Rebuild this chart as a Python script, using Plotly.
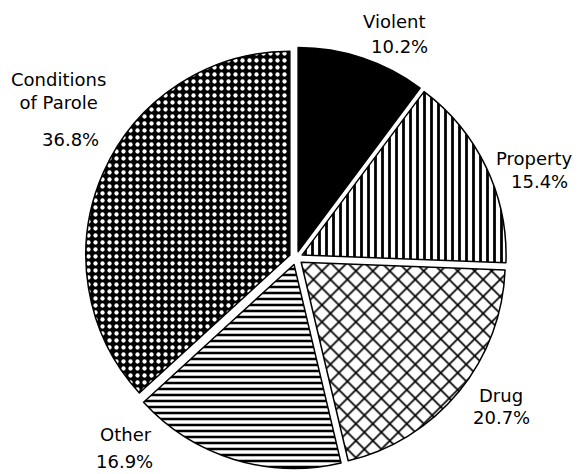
import plotly.graph_objects as go

categories = ["Violent", "Property", "Drug", "Other", "Conditions<br>of Parole"]
values = [10.2, 15.4, 20.7, 16.9, 36.8]
pct_labels = ["10.2%", "15.4%", "20.7%", "16.9%", "36.8%"]

# styling
shapes = ["", "|", "x", "-", "."]
bg = ["black", "white", "white", "white", "black"]
fg = ["black", "black", "black", "black", "white"]
sizes = [8, 7, 12, 6, 7]
solid = [0.4, 0.4, 0.26, 0.42, 0.3]

# page offset of the figure inside the browser (body margin)
OFF = 8
W, H = 580, 474

# label placement (target pixels in the 580x474 screenshot)
name_x = [427, 534, 501, 126, 58]
name_y = [22, 158, 395, 434, 91]
name_anchor = ["right", "center", "center", "center", "center"]
pct_x = [430, 539, 501, 125, 70]
pct_y = [46, 182, 417, 461, 139]
pct_anchor = ["right", "center", "center", "center", "center"]

# pie placement (target pixels): centre and drawn radius
pie_cx, pie_cy, pie_r, pull = 296, 258, 204, 0.033

font = dict(family="DejaVu Sans, Arial, sans-serif", size=18, color="black")

R = pie_r * (1 + pull)
cx, cy = pie_cx - OFF, pie_cy - OFF
dom_x = [(cx - R) / W, (cx + R) / W]
dom_y = [(H - cy - R) / H, (H - cy + R) / H]

fig = go.Figure(go.Pie(
    values=values,
    labels=categories,
    textinfo="none",
    sort=False,
    direction="clockwise",
    rotation=0,
    pull=[pull] * 5,
    hoverinfo="skip",
    marker=dict(
        colors=bg,
        line=dict(color="black", width=1.5),
        pattern=dict(shape=shapes, fgcolor=fg, bgcolor=bg, size=sizes,
                     solidity=solid, fillmode="replace"),
    ),
    domain=dict(x=dom_x, y=dom_y),
    showlegend=False,
))

annotations = []
for i, c in enumerate(categories):
    annotations.append(dict(text=c, x=(name_x[i] - OFF) / W, y=1 - (name_y[i] - OFF) / H,
                            xref="paper", yref="paper", showarrow=False,
                            xanchor=name_anchor[i], yanchor="middle",
                            align=name_anchor[i], font=font))
    annotations.append(dict(text=pct_labels[i], x=(pct_x[i] - OFF) / W, y=1 - (pct_y[i] - OFF) / H,
                            xref="paper", yref="paper", showarrow=False,
                            xanchor=pct_anchor[i], yanchor="middle", font=font))

fig.update_layout(
    width=W, height=H,
    margin=dict(l=0, r=0, t=0, b=0),
    paper_bgcolor="white", plot_bgcolor="white",
    annotations=annotations,
)
fig.write_html("out.html")
